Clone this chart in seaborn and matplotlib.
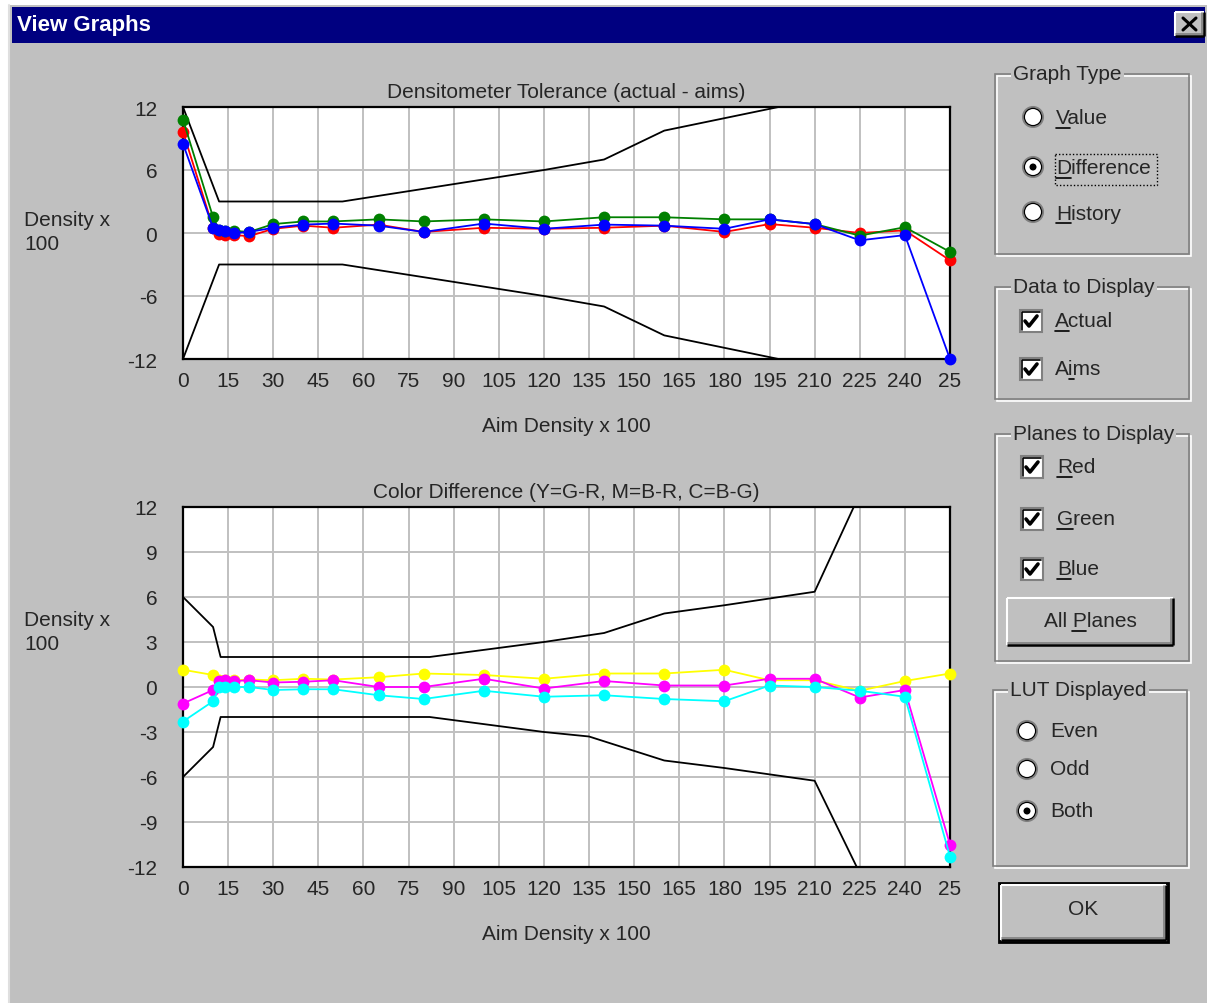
import matplotlib
matplotlib.use("Agg")
import matplotlib.pyplot as plt
import seaborn as sns
import pandas as pd
from matplotlib.patches import Rectangle, Circle
from matplotlib.font_manager import FontProperties

# ---------- dados ----------
aim_x = [0, 10, 12, 14, 17, 22, 30, 40, 50, 65, 80, 100, 120, 140, 160, 180, 195, 210, 225, 240, 255]

red_diff = [9.65, 0.5, -0.1, -0.2, -0.2, -0.3, 0.4, 0.7, 0.5, 0.8, 0.1, 0.5, 0.4, 0.5, 0.7, 0.1, 0.85, 0.5, 0.0, 0.25, -2.6]
green_diff = [10.8, 1.5, 0.3, 0.2, 0.2, 0.1, 0.85, 1.1, 1.1, 1.3, 1.1, 1.3, 1.1, 1.5, 1.5, 1.3, 1.3, 0.85, -0.25, 0.55, -1.8]
blue_diff = [8.5, 0.5, 0.3, 0.2, 0.0, 0.1, 0.5, 0.8, 0.9, 0.7, 0.1, 0.9, 0.4, 0.8, 0.7, 0.4, 1.3, 0.85, -0.7, -0.2, -12.0]

yellow_diff = [1.15, 0.8, 0.5, 0.45, 0.45, 0.5, 0.45, 0.55, 0.5, 0.65, 0.9, 0.8, 0.55, 0.9, 0.9, 1.15, 0.45, 0.45, -0.25, 0.4, 0.9]
magenta_diff = [-1.1, -0.2, 0.4, 0.45, 0.4, 0.45, 0.3, 0.35, 0.45, 0.0, 0.0, 0.55, -0.1, 0.4, 0.1, 0.1, 0.55, 0.55, -0.7, -0.2, -10.5]
cyan_diff = [-2.3, -0.95, 0.0, 0.0, 0.0, 0.0, -0.2, -0.15, -0.15, -0.55, -0.8, -0.25, -0.65, -0.55, -0.8, -0.95, 0.1, 0.0, -0.25, -0.65, -11.3]

# limites de tolerancia (linhas pretas)
tol_dens_hi_x = [0, 12, 53, 120, 140, 160, 198, 203]
tol_dens_hi = [12, 3, 3, 6, 7, 9.75, 12, 12]
tol_dens_lo_x = [0, 12, 53, 120, 140, 160, 198, 207]
tol_dens_lo = [-12, -3, -3, -6, -7, -9.75, -12, -12]

tol_col_hi_x = [0, 10, 12.5, 82, 120, 140, 160, 180, 210, 223]
tol_col_hi = [6, 4, 2, 2, 3, 3.6, 4.9, 5.45, 6.35, 12]
tol_col_lo_x = [0, 10, 12.5, 82, 120, 135, 160, 180, 210, 224]
tol_col_lo = [-6, -4, -2, -2, -3, -3.3, -4.9, -5.4, -6.25, -12]

x_ticks = list(range(0, 256, 15))
x_tick_labels = [str(v) for v in x_ticks[:-1]] + ["25"]
y_ticks_top = [-12, -6, 0, 6, 12]
y_ticks_bottom = [-12, -9, -6, -3, 0, 3, 6, 9, 12]

# ---------- estilo ----------
sns.set_style("white")
plt.rcParams['font.family'] = ['Liberation Sans', 'DejaVu Sans']
FS = 15
GRAY = '#c0c0c0'

W, H = 1207, 1004
fig = plt.figure(figsize=(W / 100, H / 100), dpi=100, facecolor=GRAY)

# eixo de fundo em pixels (janela do dialogo)
bg = fig.add_axes([0, 0, 1, 1], zorder=-1)
bg.set_xlim(0, W)
bg.set_ylim(H, 0)
bg.axis('off')
bg.set_facecolor(GRAY)
bg.add_patch(Rectangle((0, 0), W, H, fc=GRAY, ec='none'))
bg.add_patch(Rectangle((0, 0), W, 6, fc='white', ec='none'))
bg.add_patch(Rectangle((0, 0), 8, H, fc='white', ec='none'))
bg.plot([9, 9], [6, H], color='#dfdfdf', lw=1.5)

# barra de titulo
bg.add_patch(Rectangle((12, 8), W - 14, 36, fc='#000080', ec='none'))
bg.text(17, 26, "View Graphs", color='white', fontsize=16, fontweight='bold', va='center', ha='left')


def bevel(x, y, w, h):
    bg.add_patch(Rectangle((x, y), w, h, fc=GRAY, ec='none'))
    bg.plot([x, x + w], [y, y], color='white', lw=1.5, solid_capstyle='butt')
    bg.plot([x, x], [y, y + h], color='white', lw=1.5, solid_capstyle='butt')
    bg.plot([x + 1, x + w - 1], [y + h - 2, y + h - 2], color='#808080', lw=1.2)
    bg.plot([x + w - 2, x + w - 2], [y + 1, y + h - 1], color='#808080', lw=1.2)
    bg.plot([x, x + w], [y + h, y + h], color='black', lw=1.8, solid_capstyle='butt')
    bg.plot([x + w, x + w], [y, y + h], color='black', lw=1.8, solid_capstyle='butt')


# botao fechar
bevel(1175, 13, 29, 24)
bg.plot([1183, 1196], [19, 31], color='black', lw=2.2)
bg.plot([1183, 1196], [31, 19], color='black', lw=2.2)

renderer = fig.canvas.get_renderer()
prop = FontProperties(family=['Liberation Sans', 'DejaVu Sans'], size=FS)


def text_w(s):
    if not s:
        return 0.0
    return renderer.get_text_width_height_descent(s, prop, ismath=False)[0]


def label(x, y, s, ul=None, ha='left'):
    bg.text(x, y, s, fontsize=FS, va='center', ha=ha)
    if ul is not None:
        x0 = x if ha == 'left' else x - text_w(s) / 2
        a = x0 + text_w(s[:ul])
        b = x0 + text_w(s[:ul + 1])
        bg.plot([a, b], [y + 10, y + 10], color='black', lw=1.2)


def group(x, y, w, h, title, tx):
    bg.add_patch(Rectangle((x + 1.5, y + 1.5), w, h, fill=False, ec='white', lw=1.2))
    bg.add_patch(Rectangle((x, y), w, h, fill=False, ec='#808080', lw=1.2))
    bg.text(tx, y, title, fontsize=FS, va='center', ha='left',
            bbox=dict(fc=GRAY, ec='none', pad=1.5))


def radio(x, y, on=False):
    bg.add_patch(Circle((x, y), 10, fc='white', ec='#808080', lw=1.5))
    bg.add_patch(Circle((x, y), 8.6, fill=False, ec='black', lw=0.9))
    if on:
        bg.add_patch(Circle((x, y), 3.5, fc='black', ec='none'))


def checkbox(x, y):
    bg.add_patch(Rectangle((x, y), 22, 22, fc='white', ec='#808080', lw=1.5))
    bg.plot([x + 2, x + 2, x + 20], [y + 20, y + 2, y + 2], color='black', lw=1.2)
    bg.plot([x + 5, x + 9, x + 17], [y + 11, y + 16, y + 6], color='black', lw=2.6)


# Graph Type
group(995, 75, 194, 180, "Graph Type", 1013)
radio(1033, 118)
label(1056, 119, "Value", 0)
radio(1033, 168, on=True)
label(1056, 169, "Difference", 0)
bg.add_patch(Rectangle((1055, 155), 102, 31, fill=False, ec='black', lw=1.0, ls=(0, (1, 1.5))))
radio(1033, 213)
label(1056, 214, "History", 0)

# Data to Display
group(995, 288, 194, 112, "Data to Display", 1013)
checkbox(1020, 311)
label(1055, 322, "Actual", 0)
checkbox(1020, 359)
label(1055, 370, "Aims", 1)

# Planes to Display
group(995, 435, 194, 227, "Planes to Display", 1013)
checkbox(1021, 457)
label(1057, 468, "Red", 0)
checkbox(1021, 509)
label(1057, 520, "Green", 0)
checkbox(1021, 559)
label(1057, 570, "Blue", 0)
bevel(1007, 599, 166, 47)
label(1090, 622, "All Planes", 4, ha='center')

# LUT Displayed
group(993, 691, 194, 176, "LUT Displayed", 1010)
radio(1027, 732)
label(1050, 732, "Even")
radio(1027, 770)
label(1050, 770, "Odd")
radio(1027, 812, on=True)
label(1050, 812, "Both")

# OK
bg.add_patch(Rectangle((999, 884), 169, 59, fc='none', ec='black', lw=2))
bevel(1001, 886, 165, 55)
label(1083, 910, "OK", ha='center')


# ---------- graficos ----------
def make_axes(l, t, r, b):
    return fig.add_axes([l / W, 1 - b / H, (r - l) / W, (b - t) / H])


def style_axes(ax, yticks, title):
    ax.set_facecolor('white')
    ax.set_xlim(0, 255)
    ax.set_ylim(-12, 12)
    ax.set_xticks(x_ticks)
    ax.set_xticklabels(x_tick_labels, fontsize=FS)
    ax.set_yticks(yticks)
    ax.set_yticklabels([str(v) for v in yticks], fontsize=FS)
    ax.grid(True, color=GRAY, lw=1.4)
    ax.set_axisbelow(True)
    for s in ax.spines.values():
        s.set_visible(True)
        s.set_color('black')
        s.set_linewidth(1.6)
    ax.tick_params(axis='both', direction='out', length=4.5, width=1.2, color='black')
    ax.tick_params(axis='x', pad=4)
    ax.tick_params(axis='y', pad=14)
    ax.set_title(title, fontsize=FS, pad=7)
    ax.set_xlabel("Aim Density x 100", fontsize=FS, labelpad=19)
    ax.set_ylabel("")


def draw_series(ax, y, color):
    df = pd.DataFrame({"aim": aim_x, "diff": y})
    sns.lineplot(data=df, x="aim", y="diff", ax=ax, color=color, lw=1.3,
                 marker='o', markersize=8.5, markeredgewidth=0, clip_on=False, zorder=3)


def draw_tol(ax, xs, ys):
    df = pd.DataFrame({"aim": xs, "tol": ys})
    sns.lineplot(data=df, x="aim", y="tol", ax=ax, color='black', lw=1.3, zorder=2)


ax1 = make_axes(183, 108, 950, 360)
draw_tol(ax1, tol_dens_hi_x, tol_dens_hi)
draw_tol(ax1, tol_dens_lo_x, tol_dens_lo)
draw_series(ax1, red_diff, '#ff0000')
draw_series(ax1, green_diff, '#008000')
draw_series(ax1, blue_diff, '#0000ff')
style_axes(ax1, y_ticks_top, "Densitometer Tolerance (actual - aims)")

ax2 = make_axes(183, 508, 950, 868)
draw_tol(ax2, tol_col_hi_x, tol_col_hi)
draw_tol(ax2, tol_col_lo_x, tol_col_lo)
draw_series(ax2, yellow_diff, '#ffff00')
draw_series(ax2, magenta_diff, '#ff00ff')
draw_series(ax2, cyan_diff, '#00ffff')
style_axes(ax2, y_ticks_bottom, "Color Difference (Y=G-R, M=B-R, C=B-G)")

# rotulo do eixo y (horizontal, duas linhas)
bg.text(24, 221, "Density x", fontsize=FS, va='center', ha='left')
bg.text(24, 245, "100", fontsize=FS, va='center', ha='left')
bg.text(24, 621, "Density x", fontsize=FS, va='center', ha='left')
bg.text(24, 645, "100", fontsize=FS, va='center', ha='left')

fig.savefig("out.png", dpi=100, facecolor=GRAY)
